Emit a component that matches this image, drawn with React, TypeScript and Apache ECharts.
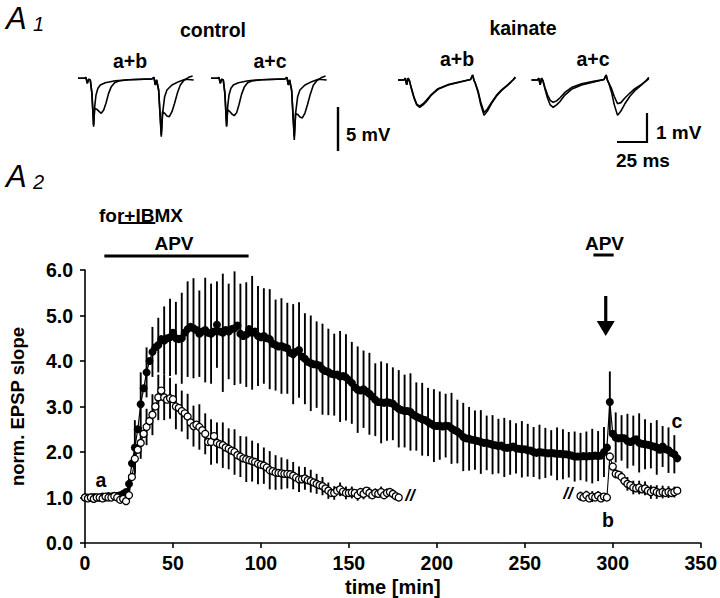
import React, { useEffect, useRef } from "react";
import * as echarts from "echarts";

// ---------- main panel data (A2) ----------
const STEP = 5 / 3; // min between samples
const filledVals: number[] = [
  1.0, 1.0, 1.0, 1.01, 1.0, 1.0, 1.02, 1.0, 1.03, 1.02, 1.04, 1.03, 1.05,
  1.08, 1.12, 1.3, 1.75, 2.1, 2.5, 3.05, 3.4, 3.75, 4.0, 4.2, 4.3, 4.35, 4.48, 4.45, 4.5,
  4.52, 4.62, 4.5, 4.48, 4.5, 4.62, 4.7, 4.75, 4.72, 4.68, 4.6, 4.65, 4.68, 4.62, 4.6, 4.65,
  4.8, 4.65, 4.62, 4.68, 4.65, 4.7, 4.72, 4.78, 4.6, 4.55, 4.58, 4.7, 4.62, 4.65, 4.55, 4.52,
  4.55, 4.5, 4.48,
  4.38, 4.35, 4.32, 4.33, 4.3, 4.28, 4.18, 4.15, 4.2, 4.24, 4.1, 4.05, 3.98, 3.95, 3.93, 3.92,
  3.9, 3.82, 3.78, 3.76, 3.72, 3.7, 3.7, 3.66, 3.67, 3.64, 3.58, 3.52, 3.42, 3.37, 3.35,
  3.38, 3.33, 3.28, 3.22, 3.15, 3.1, 3.09, 3.08, 3.1, 3.08, 3.06, 3.0, 2.95, 2.92, 2.9, 2.9,
  2.88, 2.82, 2.78, 2.75, 2.72, 2.7, 2.66, 2.62, 2.58, 2.57, 2.58, 2.56, 2.58, 2.57, 2.52, 2.48,
  2.45, 2.4, 2.33, 2.3, 2.29, 2.27, 2.26, 2.24, 2.22, 2.2, 2.2, 2.18, 2.16, 2.15, 2.13, 2.14,
  2.1, 2.09, 2.1, 2.12, 2.08, 2.07, 2.06, 2.06, 2.04, 2.03, 2.0, 1.98, 2.0, 1.99, 1.98, 1.97,
  1.98, 1.97, 1.96, 1.96, 1.95, 1.95, 1.94, 1.92, 1.9, 1.9, 1.9, 1.91, 1.9, 1.91, 1.91, 1.92,
  1.91, 1.92, 2.0, 2.1, 3.1, 2.4, 2.32, 2.3, 2.31, 2.3, 2.24, 2.22, 2.25, 2.28, 2.2, 2.18,
  2.17, 2.16, 2.14, 2.12, 2.1, 2.05, 2.12, 2.06, 2.04, 1.98, 1.95, 1.86,
];
// SEM of filled series, every other sample (odd sample indices)
const filledErr: number[] = [
  0.03, 0.03, 0.03, 0.03, 0.04, 0.04, 0.06, 0.2, 0.6, 0.7, 0.55, 0.55, 0.6, 0.75, 0.85, 0.8,
  1.0, 1.05, 1.1, 0.95, 1.15, 1.1, 0.95, 1.3, 1.05, 1.25, 1.1, 1.15, 1.25, 1.1, 1.05,
  1.1, 1.0, 1.05, 1.0, 1.1, 1.05, 1.0, 1.05, 0.95, 1.0, 0.95, 0.9, 1.0, 0.95, 0.9, 0.95,
  0.85, 0.9, 0.8, 0.9, 0.85, 0.8, 0.85, 0.8, 0.85, 0.75, 0.8, 0.75, 0.8, 0.75, 0.7, 0.78,
  0.7, 0.75, 0.7, 0.65, 0.7, 0.6, 0.65, 0.6, 0.65, 0.6, 0.55, 0.62, 0.58, 0.55, 0.6, 0.55,
  0.5, 0.58, 0.55, 0.5, 0.55, 0.52, 0.55, 0.6, 0.55, 0.55,
  0.67, 0.55, 0.5, 0.6, 0.55, 0.65, 0.55, 0.5, 0.6, 0.45, 0.5, 0.42,
];
// open series, first segment (0 – 178 min)
const openEarly: number[] = [
  1.0, 0.98, 1.0, 0.97, 1.0, 1.0, 0.98, 1.02, 1.0, 1.0, 1.03, 1.0, 0.95, 0.97, 0.92,
  1.05, 1.45, 1.85, 2.05, 2.2, 2.4, 2.55, 2.68, 2.82, 3.0, 3.2, 3.35, 3.2, 3.15, 3.18, 3.16,
  3.0, 2.97, 2.9, 2.85, 2.78, 2.65, 2.57, 2.6, 2.55, 2.48, 2.4, 2.22, 2.22, 2.35, 2.2, 2.17,
  2.15, 2.1, 2.07, 2.03, 2.0, 1.93, 1.9, 1.86, 1.84, 1.82, 1.8, 1.78, 1.74, 1.72, 1.7, 1.66,
  1.6, 1.58, 1.55, 1.54, 1.53, 1.52, 1.52, 1.51, 1.48, 1.44, 1.4, 1.4, 1.42, 1.38, 1.36, 1.33,
  1.3, 1.27, 1.25, 1.2, 1.15, 1.1, 1.1, 1.15, 1.18, 1.13, 1.1, 1.1, 1.11, 1.1, 1.05, 1.12,
  1.08, 1.15, 1.1, 1.05, 1.1, 1.08, 1.12, 1.05, 1.1, 1.12, 1.08, 1.03, 1.0,
];
const openEarlyErr: number[] = [
  0.03, 0.03, 0.04, 0.03, 0.04, 0.05, 0.06, 0.1, 0.3, 0.35, 0.4, 0.45, 0.5, 0.5, 0.45, 0.5,
  0.45, 0.5, 0.45, 0.5, 0.45, 0.5, 0.45, 0.5, 0.45, 0.5, 0.45, 0.5, 0.45, 0.45, 0.4, 0.42,
  0.38, 0.35, 0.32, 0.3, 0.28, 0.25, 0.25, 0.22, 0.2, 0.18, 0.15, 0.15, 0.14, 0.13, 0.12,
  0.12, 0.12, 0.1, 0.12, 0.1, 0.1, 0.08,
];
// open series, second segment (282 – 337 min)
const OPEN_LATE_START = 169; // sample index
const openLate: number[] = [
  1.03, 1.0, 1.05, 0.98, 1.02, 1.0, 1.04, 0.98, 1.02, 1.0,
  1.9, 1.68, 1.52, 1.5, 1.45, 1.36, 1.3, 1.27, 1.22, 1.2, 1.22, 1.18, 1.2, 1.15, 1.12, 1.15,
  1.12, 1.1, 1.12, 1.1, 1.12, 1.1, 1.12, 1.15,
];
const openLateErr: number[] = [
  0.1, 0.1, 0.12, 0.1, 0.08, 0.05, 0.1, 0.12, 0.15, 0.15, 0.15, 0.15, 0.15, 0.15, 0.14, 0.13, 0.12,
];
const xTicks = [0, 50, 100, 150, 200, 250, 300, 350];
const yTicks = [0, 1, 2, 3, 4, 5, 6];

// drug applications / markers (min)
const forIBMX = [19, 40];
const apv1 = [11, 93];
const apv2 = [289, 300.5];
const arrowAt = 296;

// ---------- A1 traces: [ms, mV] ----------
const ctrlA: number[][] = [
  [0, 0], [5.5, 0], [6.6, 0.11], [7.75, -0.57], [8.9, -0.12], [10.25, -0.19], [11.6, -1.71],
  [13.0, -5.5], [13.9, -3.22], [15.0, -1.9], [16.6, -1.14], [18.6, -0.76], [22.75, -0.5],
  [31.1, -0.28], [42.2, -0.16], [61.6, -0.08], [63.3, 0.11], [64.4, -0.76], [65.5, -0.19],
  [67.2, -1.33], [69.4, -6.63], [70.5, -3.98], [72.2, -2.09], [74.1, -1.33], [78.3, -0.76],
  [83.9, -0.38], [89.4, -0.11], [96.4, -0.19],
];
const ctrlB: number[][] = [
  [0, 0], [5.5, 0], [6.6, 0.11], [7.75, -0.57], [8.9, -0.12], [10.25, -0.19], [11.6, -1.71],
  [13.0, -5.3], [13.9, -3.41], [15.8, -3.53], [17.75, -3.79], [19.4, -3.98], [21.4, -3.6],
  [23.3, -2.84], [25.5, -1.71], [27.75, -0.95], [30.5, -0.5], [33.9, -0.3], [42.2, -0.16],
  [61.6, -0.06], [63.3, 0.11], [64.4, -0.76], [65.5, -0.19], [67.2, -1.33], [69.4, -6.44],
  [70.5, -3.79], [72.2, -3.98], [74.1, -4.28], [76.1, -4.36], [78.3, -3.79], [80.5, -2.84],
  [82.75, -1.71], [85.25, -0.76], [88, -0.27], [92.2, 0.11], [95.5, 0.27],
];
const ctrlC: number[][] = [
  [0, 0], [5.5, 0], [6.6, 0.11], [7.75, -0.57], [8.9, -0.12], [10.25, -0.19], [11.6, -1.8],
  [13.0, -5.4], [13.9, -3.6], [15.8, -3.8], [17.75, -4.1], [19.4, -4.25], [21.4, -3.9],
  [23.3, -3.0], [25.5, -1.8], [27.75, -1.0], [30.5, -0.5], [33.9, -0.3], [42.2, -0.16],
  [61.6, -0.06], [63.3, 0.11], [64.4, -0.76], [65.5, -0.19], [67.2, -1.4], [69.4, -7.0],
  [70.5, -4.0], [72.2, -4.1], [74.1, -4.4], [76.1, -4.5], [78.3, -3.95], [80.5, -2.95],
  [82.75, -1.8], [85.25, -0.8], [88, -0.3], [92.2, 0.1], [95.5, 0.25],
];
const kaiA: number[][] = [
  [0, 0], [5, 0], [6.1, 0.06], [7.25, -0.17], [8.4, 0.06], [9.5, -0.02], [11.1, -0.29],
  [13.4, -0.63], [15.6, -0.86], [18.1, -0.94], [20.9, -0.86], [23.6, -0.75], [27.8, -0.52],
  [33.3, -0.32], [41.7, -0.17], [52.8, -0.06], [60.5, 0.02], [62.2, 0.17], [63.4, -0.02],
  [64.4, -0.11], [66.7, -0.42], [68.9, -0.84], [71.7, -1.22], [74.5, -1.07], [77.8, -0.82],
  [82, -0.56], [86.1, -0.37], [91.7, -0.17], [95.9, 0], [97.8, 0.09],
];
const kaiB: number[][] = [
  [0, 0], [5, 0], [6.1, 0.06], [7.25, -0.17], [8.4, 0.06], [9.5, -0.02], [11.1, -0.27],
  [13.4, -0.6], [15.6, -0.83], [18.1, -0.9], [20.9, -0.82], [23.6, -0.7], [27.8, -0.5],
  [33.3, -0.3], [41.7, -0.16], [52.8, -0.05], [60.5, 0.02], [62.2, 0.17], [63.4, -0.02],
  [64.4, -0.11], [66.7, -0.38], [68.9, -0.76], [71.7, -1.12], [74.5, -1.0], [77.8, -0.78],
  [82, -0.53], [86.1, -0.35], [91.7, -0.16], [95.9, 0.01], [97.8, 0.1],
];
const kaiC: number[][] = [
  [0, 0], [5, 0], [6.1, 0.06], [7.25, -0.17], [8.4, 0.06], [9.5, -0.02], [11.1, -0.25],
  [13.4, -0.52], [15.6, -0.7], [18.1, -0.77], [20.9, -0.72], [23.6, -0.62], [27.8, -0.43],
  [33.3, -0.26], [41.7, -0.13], [52.8, -0.04], [60.5, 0.02], [62.2, 0.17], [63.4, -0.02],
  [64.4, -0.1], [66.7, -0.3], [68.9, -0.56], [71.7, -0.82], [74.5, -0.78], [77.8, -0.62],
  [82, -0.45], [86.1, -0.3], [91.7, -0.15], [95.9, -0.02], [97.8, 0.05],
];

const FONT = "'Liberation Sans', Arial, Helvetica, sans-serif";

export default function App() {
  const ref = useRef<HTMLDivElement>(null);
  useEffect(() => {
    document.body.style.margin = "0";
    if (!ref.current) return;
    const chart = echarts.init(ref.current, null, { renderer: "svg" });

    const filledPts = filledVals.map((v, i) => [i * STEP, v]);
    const filledBars = filledErr.map((e, k) => {
      const i = 2 * k + 1;
      return [i * STEP, filledVals[i], e];
    });
    const openEarlyPts = openEarly.map((v, i) => [i * STEP, v]);
    const openLatePts = openLate.map((v, i) => [(OPEN_LATE_START + i) * STEP, v]);
    const openBars = [
      ...openEarlyErr.map((e, k) => {
        const i = 2 * k + 1;
        return [i * STEP, openEarly[i], e];
      }),
      ...openLateErr.map((e, k) => {
        const i = OPEN_LATE_START + 2 * k;
        return [i * STEP, openLate[i - OPEN_LATE_START], e];
      }),
    ];

    const errRender = (params: any, api: any) => {
      const x = api.value(0);
      const y = api.value(1);
      const e = api.value(2);
      const p1 = api.coord([x, y - e]);
      const p2 = api.coord([x, y + e]);
      return {
        type: "line",
        shape: { x1: p1[0], y1: p1[1], x2: p2[0], y2: p2[1] },
        style: { stroke: "#000", lineWidth: 1.9 },
      };
    };

    const traceGrids = [
      { left: 78, top: 69.5, width: 120, height: 70.4 },
      { left: 211, top: 69.5, width: 120, height: 70.4 },
      { left: 398, top: 65.5, width: 120, height: 58 },
      { left: 531.5, top: 65.5, width: 120, height: 58 },
    ];
    const traceY = [
      [-7, 1], [-7, 1], [-1.5, 0.5], [-1.5, 0.5],
    ];
    const traceSets = [
      [ctrlA, ctrlB],
      [ctrlA, ctrlC],
      [kaiA, kaiB],
      [kaiA, kaiC],
    ];

    const traceSeries: any[] = [];
    traceSets.forEach((set, gi) => {
      set.forEach((tr) => {
        traceSeries.push({
          type: "line",
          xAxisIndex: gi + 1,
          yAxisIndex: gi + 1,
          data: tr,
          symbol: "none",
          lineStyle: { color: "#000", width: 1.6 },
          silent: true,
        });
      });
    });

    const option: any = {
      animation: false,
      backgroundColor: "#fff",
      grid: [{ left: 85, top: 270, width: 616, height: 274 }, ...traceGrids],
      xAxis: [
        {
          type: "value",
          gridIndex: 0,
          min: xTicks[0],
          max: xTicks[xTicks.length - 1],
          interval: 50,
          name: "time [min]",
          nameLocation: "middle",
          nameGap: 34,
          nameTextStyle: { fontFamily: FONT, fontWeight: "bold", fontSize: 20, color: "#000" },
          axisLine: { lineStyle: { color: "#000", width: 1.6 } },
          axisTick: { show: true, length: 5, lineStyle: { color: "#000", width: 1.6 } },
          axisLabel: { fontFamily: FONT, fontWeight: "bold", fontSize: 19.5, color: "#000", margin: 10 },
          splitLine: { show: false },
        },
        ...traceGrids.map((_, i) => ({
          type: "value",
          gridIndex: i + 1,
          min: 0,
          max: 100,
          show: false,
          splitLine: { show: false },
        })),
      ],
      yAxis: [
        {
          type: "value",
          gridIndex: 0,
          min: yTicks[0],
          max: yTicks[yTicks.length - 1],
          interval: 1,
          name: "norm. EPSP slope",
          nameLocation: "middle",
          nameGap: 58,
          nameTextStyle: { fontFamily: FONT, fontWeight: "bold", fontSize: 18.5, color: "#000" },
          axisLine: { show: true, lineStyle: { color: "#000", width: 1.6 } },
          axisTick: { show: true, length: 5, lineStyle: { color: "#000", width: 1.6 } },
          axisLabel: {
            fontFamily: FONT,
            fontWeight: "bold",
            fontSize: 19.5,
            color: "#000",
            margin: 12,
            formatter: (v: number) => v.toFixed(1),
          },
          splitLine: { show: false },
        },
        ...traceGrids.map((_, i) => ({
          type: "value",
          gridIndex: i + 1,
          min: traceY[i][0],
          max: traceY[i][1],
          show: false,
          splitLine: { show: false },
        })),
      ],
      series: [
        {
          type: "custom",
          xAxisIndex: 0,
          yAxisIndex: 0,
          renderItem: errRender,
          data: filledBars,
          encode: { x: 0, y: 1 },
          z: 1,
          silent: true,
        },
        {
          type: "line",
          xAxisIndex: 0,
          yAxisIndex: 0,
          data: filledPts,
          symbol: "circle",
          symbolSize: 8,
          itemStyle: { color: "#000" },
          lineStyle: { color: "#000", width: 1.2 },
          z: 2,
          silent: true,
        },
        {
          type: "custom",
          xAxisIndex: 0,
          yAxisIndex: 0,
          renderItem: errRender,
          data: openBars,
          encode: { x: 0, y: 1 },
          z: 3,
          silent: true,
        },
        {
          type: "line",
          xAxisIndex: 0,
          yAxisIndex: 0,
          data: openEarlyPts,
          symbol: "circle",
          symbolSize: 7,
          itemStyle: { color: "#fff", borderColor: "#000", borderWidth: 1.3 },
          lineStyle: { color: "#000", width: 1.1 },
          z: 4,
          silent: true,
        },
        {
          type: "line",
          xAxisIndex: 0,
          yAxisIndex: 0,
          data: openLatePts,
          symbol: "circle",
          symbolSize: 7,
          itemStyle: { color: "#fff", borderColor: "#000", borderWidth: 1.3 },
          lineStyle: { color: "#000", width: 1.1 },
          z: 4,
          silent: true,
        },
        ...traceSeries,
      ],
    };
    chart.setOption(option);

    const px = (t: number, v: number) =>
      chart.convertToPixel({ gridIndex: 0 } as any, [t, v]) as number[];

    const txt = (text: string, x: number, y: number, size: number, opts: any = {}) => ({
      type: "text",
      x,
      y,
      style: {
        text,
        fontFamily: FONT,
        fontWeight: opts.weight || "bold",
        fontStyle: opts.style || "normal",
        fontSize: size,
        fill: "#000",
        align: opts.align || "center",
        verticalAlign: opts.valign || "middle",
      },
      silent: true,
    });

    const barLine = (t0: number, t1: number, y: number, w: number) => {
      const a = px(t0, 0);
      const b = px(t1, 0);
      return {
        type: "line",
        shape: { x1: a[0], y1: y, x2: b[0], y2: y },
        style: { stroke: "#000", lineWidth: w },
        silent: true,
      };
    };

    const ar = px(arrowAt, 0);
    const ax = ar[0];

    const graphic: any[] = [
      // panel labels
      txt("A", 6, 34, 31, { weight: "normal", style: "italic", align: "left", valign: "bottom" }),
      txt("1", 33, 34, 20, { weight: "normal", style: "italic", align: "left", valign: "bottom" }),
      txt("A", 6, 192, 31, { weight: "normal", style: "italic", align: "left", valign: "bottom" }),
      txt("2", 33, 192, 20, { weight: "normal", style: "italic", align: "left", valign: "bottom" }),
      // A1 headings
      txt("control", 213, 30, 19.5),
      txt("kainate", 523, 28, 19.5),
      txt("a+b", 130, 61, 19.5),
      txt("a+c", 270, 61, 19.5),
      txt("a+b", 457, 59, 19.5),
      txt("a+c", 593, 59, 19.5),
      // scale bars
      { type: "line", shape: { x1: 338, y1: 107, x2: 338, y2: 151 }, style: { stroke: "#000", lineWidth: 2.4 }, silent: true },
      txt("5 mV", 346, 134, 18.5, { align: "left" }),
      { type: "polyline", shape: { points: [[647, 113], [647, 142], [617, 142]] }, style: { stroke: "#000", lineWidth: 2.2, fill: null }, silent: true },
      txt("1 mV", 656, 132, 19, { align: "left" }),
      txt("25 ms", 616, 160, 19, { align: "left" }),
      // A2 annotations
      txt("for+IBMX", 141, 215, 19),
      barLine(forIBMX[0], forIBMX[1], 223, 2.2),
      txt("APV", 174, 243, 19),
      barLine(apv1[0], apv1[1], 256, 3),
      txt("APV", 604.5, 243, 19),
      barLine(apv2[0], apv2[1], 255, 3),
      { type: "line", shape: { x1: ax, y1: 296, x2: ax, y2: 326 }, style: { stroke: "#000", lineWidth: 3.2 }, silent: true },
      { type: "polygon", shape: { points: [[ax - 9, 321], [ax + 9, 321], [ax, 336]] }, style: { fill: "#000" }, silent: true },
      txt("a", 101, 480, 19.5),
      txt("b", 608, 520, 19.5),
      txt("c", 677, 421, 19.5),
      txt("//", 410, 495, 17, { style: "italic" }),
      txt("//", 568, 493, 17, { style: "italic" }),
    ];
    chart.setOption({ graphic });

    return () => chart.dispose();
  }, []);

  return <div ref={ref} style={{ width: 720, height: 598 }} />;
}
